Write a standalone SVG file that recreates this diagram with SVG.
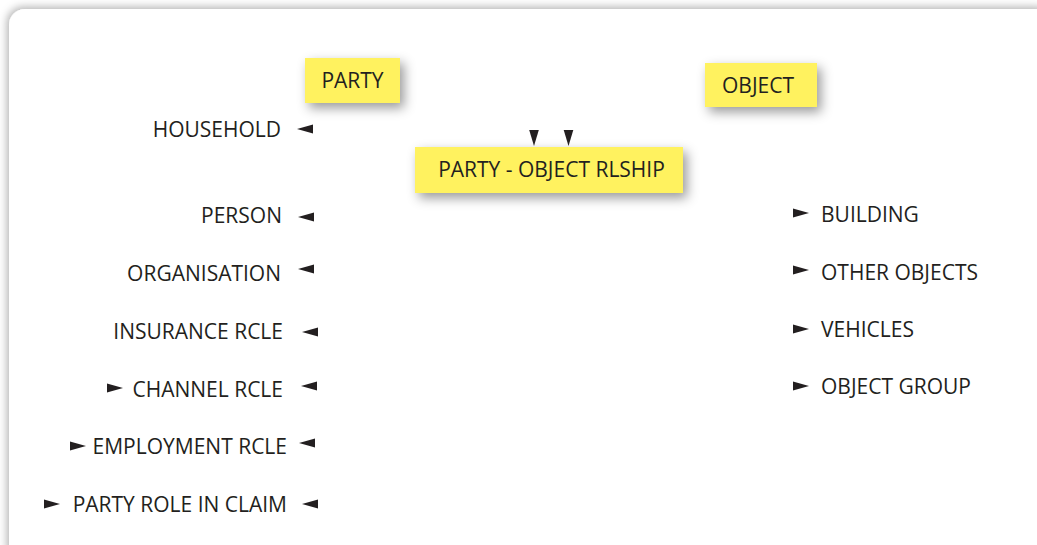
<svg xmlns="http://www.w3.org/2000/svg" width="1037" height="545" viewBox="0 0 1037 545">
  <defs>
    <filter id="cardShadow" x="-5%" y="-5%" width="110%" height="110%">
      <feDropShadow dx="-2" dy="-2" stdDeviation="4" flood-color="#000" flood-opacity="0.3"/>
    </filter>
    <filter id="boxShadow" x="-20%" y="-40%" width="140%" height="180%">
      <feDropShadow dx="4" dy="5" stdDeviation="6" flood-color="#000" flood-opacity="0.4"/>
    </filter>
    <polygon id="tri-left" points="0,0 16,-4.6 16,4.6"/>
    <polygon id="tri-right" points="0,-4.6 16,0 0,4.6"/>
    <polygon id="tri-down" points="-4.8,0 4.8,0 0,16"/>
  </defs>
  <style>
    text { font-family: "Open Sans", "Liberation Sans", sans-serif; font-size: 21px; fill: #231f20; }
    .r { text-anchor: end; }
    .box { fill: #fff25f; filter: url(#boxShadow); }
    .head { fill: #231f20; }
  </style>

  <!-- background card -->
  <rect x="9" y="9" width="1045" height="555" rx="16" ry="16" fill="#ffffff" filter="url(#cardShadow)"/>

  <!-- entity boxes -->
  <g id="party">
    <rect class="box" x="305" y="58" width="95" height="45"/>
    <text x="352.5" y="88" text-anchor="middle">PARTY</text>
  </g>
  <g id="object">
    <rect class="box" x="705" y="63" width="112" height="44"/>
    <text x="758" y="93" text-anchor="middle">OBJECT</text>
  </g>
  <g id="party-object-rlship">
    <rect class="box" x="415" y="147" width="268" height="46"/>
    <text x="551.5" y="177" text-anchor="middle">PARTY - OBJECT RLSHIP</text>
  </g>

  <!-- party sub-types -->
  <g id="household"><text class="r" x="281" y="137">HOUSEHOLD</text></g>
  <g id="person"><text class="r" x="282" y="223">PERSON</text></g>
  <g id="organisation"><text class="r" x="281" y="281">ORGANISATION</text></g>
  <g id="insurance-rcle"><text class="r" x="283" y="339">INSURANCE RCLE</text></g>
  <g id="channel-rcle"><text class="r" x="283" y="397">CHANNEL RCLE</text></g>
  <g id="employment-rcle"><text class="r" x="287" y="454">EMPLOYMENT RCLE</text></g>
  <g id="party-role-in-claim"><text class="r" x="287" y="512">PARTY ROLE IN CLAIM</text></g>

  <!-- object sub-types -->
  <g id="building"><text x="821" y="222">BUILDING</text></g>
  <g id="other-objects"><text x="821" y="280">OTHER OBJECTS</text></g>
  <g id="vehicles"><text x="821" y="337">VEHICLES</text></g>
  <g id="object-group"><text x="821" y="394">OBJECT GROUP</text></g>

  <!-- connectors (arrowheads only) -->
  <g id="connectors" class="head">
    <use href="#tri-left" x="297" y="129"/>
    <use href="#tri-left" x="298" y="217"/>
    <use href="#tri-left" x="298" y="269"/>
    <use href="#tri-left" x="302" y="332"/>
    <use href="#tri-left" x="301" y="386"/>
    <use href="#tri-left" x="299" y="443"/>
    <use href="#tri-left" x="302" y="504"/>

    <use href="#tri-right" x="107" y="388"/>
    <use href="#tri-right" x="70" y="446"/>
    <use href="#tri-right" x="44" y="504"/>

    <use href="#tri-right" x="793" y="213"/>
    <use href="#tri-right" x="793" y="270"/>
    <use href="#tri-right" x="793" y="329"/>
    <use href="#tri-right" x="793" y="386"/>

    <use href="#tri-down" x="534" y="130"/>
    <use href="#tri-down" x="568.5" y="130"/>
  </g>
</svg>
